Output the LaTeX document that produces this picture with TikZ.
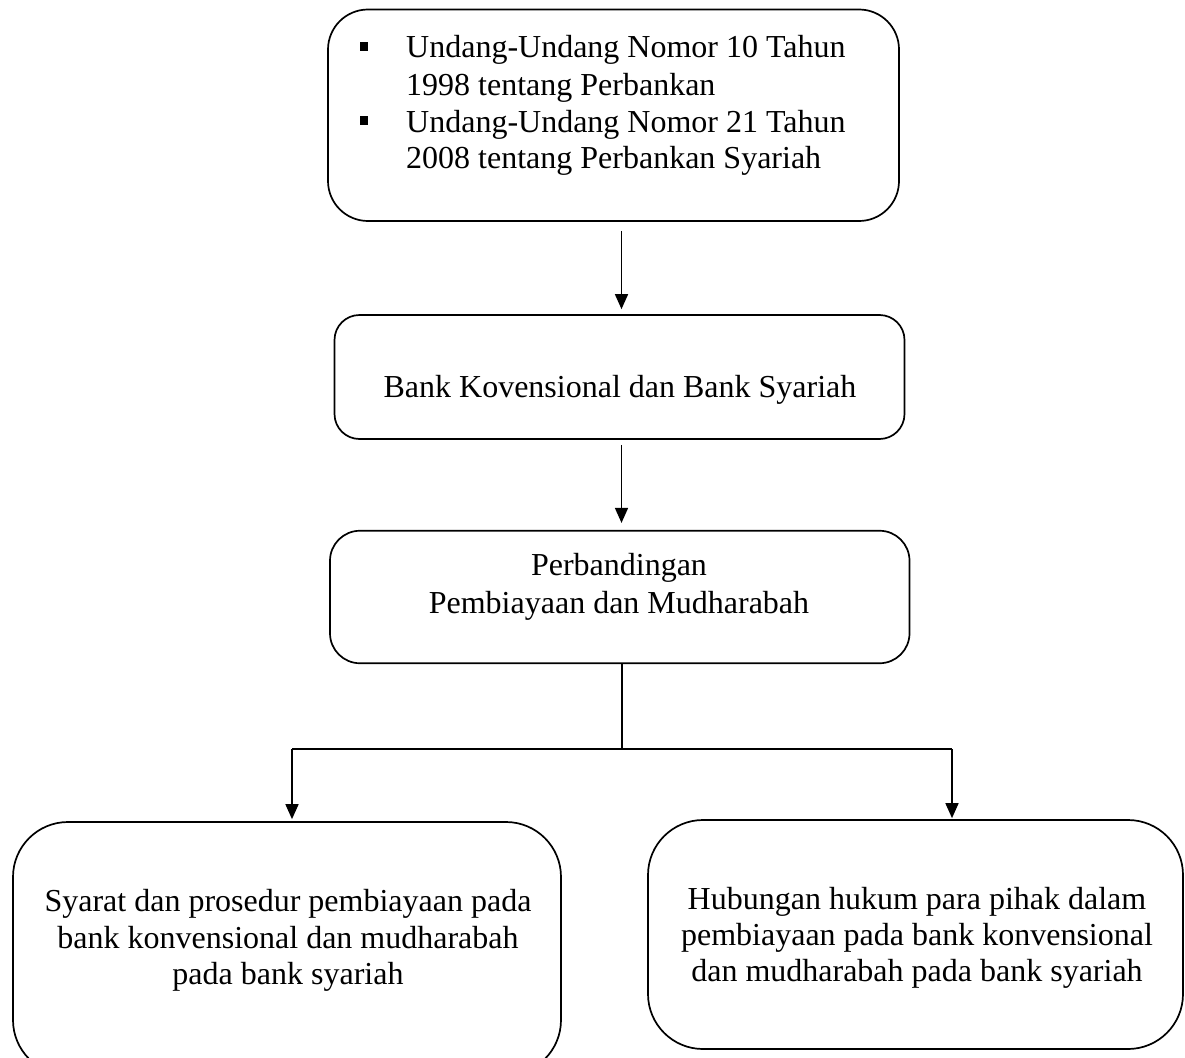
\documentclass[tikz,border=0pt]{standalone}
\usepackage{fontspec}
\setmainfont{Liberation Serif}
\usetikzlibrary{arrows.meta}
\begin{document}
\begin{tikzpicture}[x=1pt,y=-1pt,
  boxshape/.style={draw, line width=1.7pt, inner sep=0pt},
  txt/.style={font=\fontsize{32}{37}\selectfont, inner sep=0pt, anchor=base},
  ltxt/.style={font=\fontsize{32}{37}\selectfont, inner sep=0pt, anchor=base west},
  bulletsq/.style={fill=black, inner sep=0pt, minimum size=8.5pt},
  conn/.style={line width=1.6pt},
  arr/.style={conn, -{Triangle[length=15pt,width=13pt]}}]
\useasboundingbox (0,0) rectangle (1185,1057);

% boxes
\node[boxshape, rounded corners=40pt, minimum width=571pt, minimum height=211.5pt] (b1) at (613.5,115.25) {};
\node[boxshape, rounded corners=25pt, minimum width=570pt, minimum height=124pt] (b2) at (619.5,377) {};
\node[boxshape, rounded corners=30pt, minimum width=579.5pt, minimum height=132.5pt] (b3) at (619.75,597) {};
\node[boxshape, rounded corners=55pt, minimum width=548pt, minimum height=253pt] (lb) at (287,948.5) {};
\node[boxshape, rounded corners=55pt, minimum width=535pt, minimum height=229pt] (rb) at (915.5,934.5) {};

% top box text
\node[bulletsq] (bu1) at (364,46.5) {};
\node[bulletsq] (bu2) at (364,120.5) {};
\node[ltxt] (t1a) at (406,58) {Undang-Undang Nomor 10 Tahun};
\node[ltxt] (t1b) at (406,95) {1998 tentang Perbankan};
\node[ltxt] (t1c) at (406,132) {Undang-Undang Nomor 21 Tahun};
\node[ltxt] (t1d) at (406,168) {2008 tentang Perbankan Syariah};

% middle texts
\node[txt] (t2) at (620,397) {Bank Kovensional dan Bank Syariah};
\node[txt] (t3a) at (619,575) {Perbandingan};
\node[txt] (t3b) at (619,613) {Pembiayaan dan Mudharabah};

% bottom texts
\node[txt] (l1) at (288,911) {Syarat dan prosedur pembiayaan pada};
\node[txt] (l2) at (288,948) {bank konvensional dan mudharabah};
\node[txt] (l3) at (288,984) {pada bank syariah};
\node[txt] (r1) at (917,909) {Hubungan hukum para pihak dalam};
\node[txt] (r2) at (917,945) {pembiayaan pada bank konvensional};
\node[txt] (r3) at (917,981) {dan mudharabah pada bank syariah};

% connectors
\draw[arr, shorten <=9pt, shorten >=5pt] (b1.south -| 621.5,0) -- (b2.north -| 621.5,0);
\draw[arr, shorten <=5pt, shorten >=7pt] (b2.south -| 621.5,0) -- (b3.north -| 621.5,0);

\coordinate (split) at (622,749);
\coordinate (lcorner) at (292,749);
\coordinate (rcorner) at (952,749);
\draw[conn] (b3.south -| split) -- (split);
\draw[conn] (lcorner) -- (rcorner);
\draw[arr, shorten >=2pt] (lcorner) -- (lcorner |- lb.north);
\draw[arr, shorten >=1pt] (rcorner) -- (rcorner |- rb.north);
\end{tikzpicture}
\end{document}
